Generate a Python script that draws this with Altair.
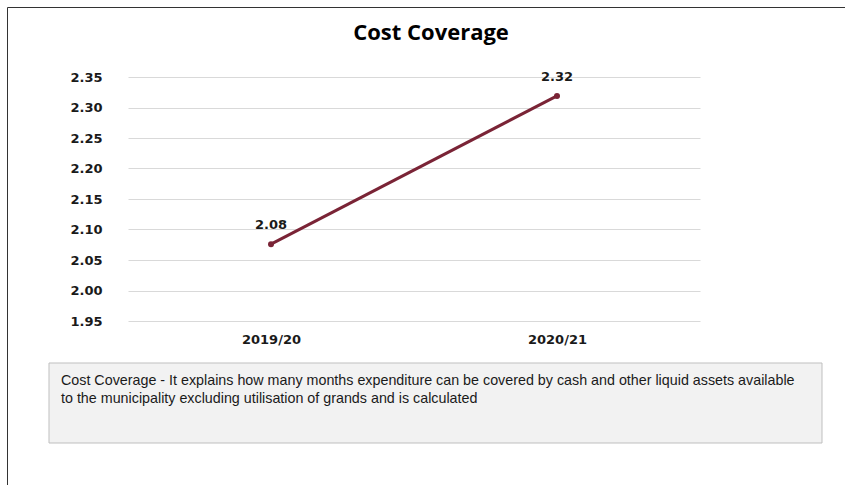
import altair as alt
import pandas as pd

periods = ["2019/20", "2020/21"]
values = [2.076, 2.319]
tick_values = [1.95, 2.00, 2.05, 2.10, 2.15, 2.20, 2.25, 2.30, 2.35]
chart_title = "Cost Coverage"
note_lines = [
    "Cost Coverage - It explains how many months expenditure can be covered by cash and other liquid assets available",
    "to the municipality excluding utilisation of grands and is calculated",
]

df = pd.DataFrame({"period": periods, "value": values})
W, H = 572, 244

x_enc = alt.X("period:N", sort=periods, title=None,
              scale=alt.Scale(type="point", padding=0.5),
              axis=alt.Axis(labelAngle=0, labelFont="DejaVu Sans", labelFontWeight="bold",
                            labelFontSize=13, labelColor="#1a1a1a", domain=False, ticks=False,
                            grid=False, labelPadding=12))
y_enc = alt.Y("value:Q", title=None,
              scale=alt.Scale(domain=[1.95, 2.35], nice=False, zero=False),
              axis=alt.Axis(values=tick_values, format=".2f", labelFont="DejaVu Sans",
                            labelFontWeight="bold", labelFontSize=13, labelColor="#1a1a1a",
                            domain=False, ticks=False, grid=True, gridColor="#d9d9d9",
                            labelPadding=26))

base = alt.Chart(df)
line = base.mark_line(color="#7a2436", strokeWidth=3).encode(x=x_enc, y=y_enc)
pts = base.mark_circle(color="#7a2436", size=36, opacity=1).encode(x=x_enc, y=y_enc)
labels = base.mark_text(dy=-19, font="DejaVu Sans", fontWeight="bold", fontSize=13,
                        color="#1a1a1a").encode(x=x_enc, y=y_enc, text=alt.Text("value:Q", format=".2f"))

one = pd.DataFrame({"t": [chart_title], "note": ["\n".join(note_lines)]})
frame = alt.Chart(one).mark_rect(fill=None, stroke="#333333", strokeWidth=1).encode(
    x=alt.value(-120.5), x2=alt.value(760), y=alt.value(-69.5), y2=alt.value(500))
box = alt.Chart(one).mark_rect(fill="#f2f2f2", stroke="#bfbfbf", strokeWidth=1).encode(
    x=alt.value(-79), x2=alt.value(694), y=alt.value(286), y2=alt.value(366))
note = alt.Chart(one).mark_text(align="left", baseline="top", font="Liberation Sans",
                                fontSize=14.3, lineHeight=18, lineBreak="\n",
                                color="#1a1a1a").encode(
    x=alt.value(-67), y=alt.value(297), text="note:N")
title = alt.Chart(one).mark_text(align="center", baseline="middle", font="Open Sans",
                                 fontSize=22, fontWeight="bold", color="#000000").encode(
    x=alt.value(303), y=alt.value(-44), text="t:N")

chart = alt.layer(frame, box, note, title, line, pts, labels).properties(
    width=W, height=H,
    padding={"left": 128, "top": 77, "right": 145, "bottom": 164},
    autosize=alt.AutoSizeParams(type="none"),
    background="white",
).configure_view(stroke=None)

chart.save("out.html", embed_options={"renderer": "svg", "actions": False})
